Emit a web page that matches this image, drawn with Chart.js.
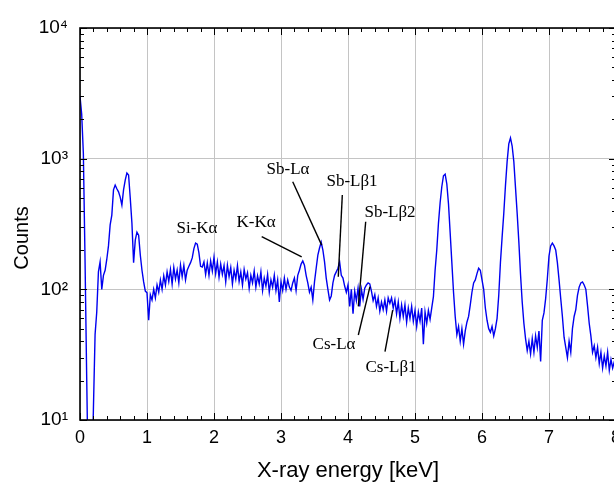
<!DOCTYPE html>
<html><head><meta charset="utf-8">
<script src="https://cdn.jsdelivr.net/npm/chart.js@4.4.1/dist/chart.umd.min.js"></script>
<style>html,body{margin:0;padding:0;overflow:hidden;background:#fff}</style>
</head><body>
<canvas id="c" width="618" height="484"></canvas>
<script>
// channel calibration (keV)
const channelStart = 0;
const channelWidth = 0.025;

// counts per channel, one array per keV
const counts0to1 = [3000,2200,1100,170,21,3,3,3,12,45,67,136,162,100,128,140,170,215,311,370,577,628,588,557,508,441,577,686,777,750,500,320,160,238,274,260,183,140,114,97];
const counts1to2 = [94,58,91,83,100,86,108,95,118,100,127,108,136,115,142,110,147,120,140,112,153,125,152,118,140,150,160,174,205,226,222,190,150,148,162,130,159,128,165,138];
const counts2to3 = [176,132,162,124,156,130,152,114,153,125,147,110,140,120,152,115,136,108,142,120,134,102,128,112,138,104,127,110,136,98,122,106,130,95,118,104,128,98,118,80];
const counts3to4 = [114,98,122,100,118,104,98,112,122,98,128,140,156,165,153,128,112,95,104,83,114,145,183,207,230,200,162,122,100,83,89,112,128,136,145,162,128,122,106,95];
const counts4to5 = [108,74,100,65,97,82,102,74,100,84,102,108,112,110,97,82,91,74,86,68,80,70,83,68,86,78,86,72,83,65,80,60,76,62,76,56,72,60,74,57];
const counts5to6 = [69,52,67,57,72,38,67,55,69,59,72,88,140,200,320,460,610,740,760,640,450,270,160,95,62,45,52,40,50,38,48,56,62,76,95,112,118,132,145,140];
const counts6to7 = [118,100,72,58,50,47,52,44,50,60,90,160,250,380,620,950,1300,1440,1250,950,600,380,230,130,80,55,42,34,40,32,42,33,44,36,48,28,58,66,85,120];
const counts7to8 = [180,215,226,215,200,160,118,85,62,43,36,30,40,33,50,62,70,90,104,112,114,108,100,75,55,44,33,37,30,36,27,33,25,31,26,33,24,29,25,28,24];

const xTickValues = [0,1,2,3,4,5,6,7,8];
const xTickLabels = ['0','1','2','3','4','5','6','7','8'];
const xMinorValues = [];
for (let k = 0; k <= 40; k++) if (k % 5) xMinorValues.push(k * 0.2);
const yTickValues = [10,100,1000,10000];
const yTickLabels = ['10\u00B9','10\u00B2','10\u00B3','10\u2074'];
const yMinorValues = [];
[10,100,1000].forEach(d => { for (let m = 2; m <= 9; m++) yMinorValues.push(m * d); });
const yTitle = 'Counts';

// peak labels: text position and leader line, in data coordinates (keV, counts)
const peakLabels = [
  {text:'Si-K\u03B1', x:1.746, y:294},
  {text:'K-K\u03B1', x:2.627, y:322, from:[2.712,253], to:[3.309,177]},
  {text:'Sb-L\u03B1', x:3.104, y:832, from:[3.175,665], to:[3.607,218]},
  {text:'Sb-L\u03B21', x:4.06, y:674, from:[3.915,527], to:[3.855,125]},
  {text:'Sb-L\u03B22', x:4.627, y:390, from:[4.264,329], to:[4.154,74]},
  {text:'Cs-L\u03B1', x:3.791, y:38.1, from:[4.154,44.7], to:[4.328,105]},
  {text:'Cs-L\u03B21', x:4.642, y:25.4, from:[4.552,33.3], to:[4.667,69.4]}
];

const counts = [].concat(counts0to1, counts1to2, counts2to3, counts3to4, counts4to5, counts5to6, counts6to7, counts7to8);
const points = counts.map((c, i) => ({x: channelStart + i * channelWidth, y: c}));

const framePlugin = {
  id: 'frame',
  afterDatasetsDraw(chart) {
    const {ctx, chartArea: a, scales: {x, y}} = chart;
    ctx.save();
    ctx.strokeStyle = '#000';
    ctx.lineWidth = 1;
    const seg = (x1, y1, x2, y2) => { ctx.beginPath(); ctx.moveTo(x1, y1); ctx.lineTo(x2, y2); ctx.stroke(); };
    xMinorValues.forEach(v => { const p = Math.round(x.getPixelForValue(v)) + 0.5; seg(p, a.bottom, p, a.bottom - 4); seg(p, a.top, p, a.top + 4); });
    xTickValues.forEach(v => { const p = Math.round(x.getPixelForValue(v)) + 0.5; seg(p, a.bottom, p, a.bottom - 7); seg(p, a.top, p, a.top + 7); });
    yMinorValues.forEach(v => { const p = Math.round(y.getPixelForValue(v)) + 0.5; seg(a.left, p, a.left + 4, p); seg(a.right, p, a.right - 4, p); });
    yTickValues.forEach(v => { const p = Math.round(y.getPixelForValue(v)) + 0.5; seg(a.left, p, a.left + 7, p); seg(a.right, p, a.right - 7, p); });
    ctx.lineWidth = 1.6;
    ctx.strokeRect(a.left, a.top, a.right - a.left, a.bottom - a.top);
    ctx.fillStyle = '#000';
    ctx.font = '17px "Liberation Serif", "Times New Roman", serif';
    ctx.textAlign = 'center';
    ctx.textBaseline = 'middle';
    ctx.lineWidth = 1.4;
    peakLabels.forEach(l => {
      ctx.fillText(l.text, x.getPixelForValue(l.x), y.getPixelForValue(l.y));
      if (l.from) seg(x.getPixelForValue(l.from[0]), y.getPixelForValue(l.from[1]), x.getPixelForValue(l.to[0]), y.getPixelForValue(l.to[1]));
    });
    // y axis title, slightly below the plot centre as in the reference
    ctx.font = '20px "Liberation Sans", Arial, sans-serif';
    ctx.translate(22, (a.top + a.bottom) / 2 + 14);
    ctx.rotate(-Math.PI / 2);
    ctx.fillText(yTitle, 0, 0);
    ctx.restore();
  }
};

new Chart(document.getElementById('c'), {
  type: 'line',
  data: {datasets: [{data: points, borderColor: '#0000f0', borderWidth: 1.4, pointRadius: 0, tension: 0, fill: false}]},
  options: {
    responsive: false, animation: false, devicePixelRatio: 1,
    layout: {padding: {top: 28, right: 2, left: 0, bottom: 0}},
    plugins: {legend: {display: false}, tooltip: {enabled: false}},
    scales: {
      x: {
        type: 'linear', min: 0, max: 8,
        afterBuildTicks(s) { s.ticks = xTickValues.map(v => ({value: v})); },
        afterFit(s) { s.height = 64; s.paddingLeft = 0; s.paddingRight = 0; },
        ticks: {callback: (v, i) => xTickLabels[i], font: {family: 'Liberation Sans', size: 18}, color: '#000', padding: 7, maxRotation: 0, autoSkip: false},
        grid: {color: '#c4c4c4', lineWidth: 1, drawTicks: false},
        border: {display: false},
        title: {display: true, text: 'X-ray energy [keV]', font: {family: 'Liberation Sans', size: 22}, color: '#000', padding: {top: 0, bottom: 0}}
      },
      y: {
        type: 'logarithmic', min: 10, max: 10000,
        afterBuildTicks(s) { s.ticks = yTickValues.map(v => ({value: v})); },
        afterFit(s) { s.width = 80; s.paddingTop = 0; s.paddingBottom = 0; },
        ticks: {callback: (v, i) => yTickLabels[i], font: {family: 'Liberation Sans', size: 19}, color: '#000', padding: 12, autoSkip: false},
        grid: {color: '#c4c4c4', lineWidth: 1, drawTicks: false},
        border: {display: false},
        title: {display: false}
      }
    }
  },
  plugins: [framePlugin]
});
</script>
</body></html>
